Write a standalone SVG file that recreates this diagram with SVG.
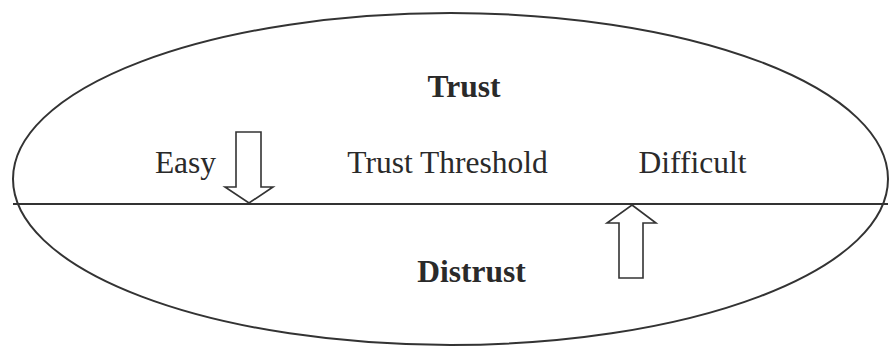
<svg xmlns="http://www.w3.org/2000/svg" width="891" height="347" viewBox="0 0 891 347">
<style>
.ln{fill:none;stroke:#333;stroke-width:2}
.ar{fill:#fff;stroke:#333;stroke-width:1.6;stroke-linejoin:miter}
.t{font-family:"Liberation Serif","Times New Roman",serif;font-size:31.5px;fill:#2a2a2a;text-anchor:middle}
.b{font-weight:bold}
</style>
<rect width="891" height="347" fill="#fff"/>
<g id="ellipse"><ellipse class="ln" cx="450.5" cy="179" rx="437.5" ry="166"/></g>
<g id="threshold-line"><line class="ln" x1="13" y1="204" x2="888" y2="204"/></g>
<g id="connectors">
<path id="down-arrow" class="ar" d="M236,132 H261 V187 H273 L249,203 L225,187 H236 Z"/>
<path id="up-arrow" class="ar" d="M632,205 L656,223 H643 V278 H619 V223 H607 Z"/>
</g>
<g id="trust"><text class="t b" x="464" y="97">Trust</text></g>
<g id="easy"><text class="t" x="185.5" y="173">Easy</text></g>
<g id="trust-threshold"><text class="t" x="447.5" y="173">Trust Threshold</text></g>
<g id="difficult"><text class="t" x="692.5" y="173">Difficult</text></g>
<g id="distrust"><text class="t b" x="471.5" y="282">Distrust</text></g>
</svg>
